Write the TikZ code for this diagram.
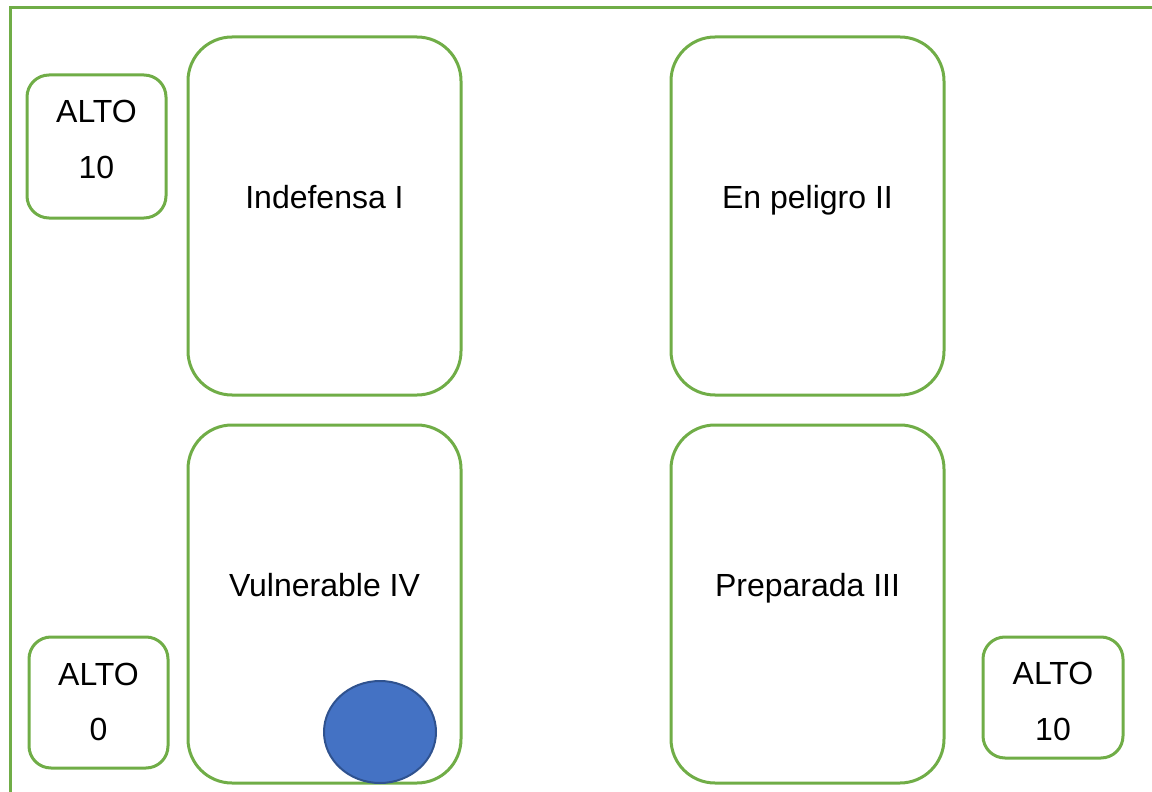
\documentclass[tikz,border=0pt]{standalone}
\usepackage{fontspec}
\setmainfont{Liberation Sans}
\usetikzlibrary{shapes.geometric}
\definecolor{gframe}{HTML}{70AD47}
\definecolor{dotfill}{HTML}{4472C4}
\definecolor{dotline}{HTML}{2F528F}
\tikzset{
  bigbox/.style={draw=gframe, line width=1.5pt, rounded corners=22pt, anchor=north west, inner sep=0pt, outer sep=0pt, minimum width=136.5pt, minimum height=179pt},
  smallbox/.style={draw=gframe, line width=1.5pt, rounded corners=11pt, anchor=north west, inner sep=0pt, outer sep=0pt},
  lbl/.style={anchor=base, inner sep=0pt, font=\fontsize{16}{19}\selectfont},
}
\begin{document}
\begin{tikzpicture}[x=0.5pt, y=-0.5pt]
\useasboundingbox (0,0) rectangle (1152,792);
\clip (0,0) rectangle (1152,792);
\draw[gframe, line width=1.5pt] (10,8) rectangle (1180,820);
% big quadrant boxes
\node[bigbox] (b1) at (188,37) {};
\node[bigbox] (b2) at (671,37) {};
\node[bigbox] (b4) at (188,425) {};
\node[bigbox] (b3) at (671,425) {};
\node[lbl] (t1) at (324.5,208) {Indefensa I};
\node[lbl] (t2) at (807.5,208) {En peligro II};
\node[lbl] (t4) at (324.5,596) {Vulnerable IV};
\node[lbl] (t3) at (807.5,596) {Preparada III};
% small side boxes
\node[smallbox, minimum width=69.5pt, minimum height=71.5pt] (s1) at (27,75) {};
\node[lbl] (s1a) at (96.5,123) {ALTO};
\node[lbl] (s1b) at (96.5,178) {10};
\node[smallbox, minimum width=69.5pt, minimum height=65.5pt] (s2) at (29,637) {};
\node[lbl] (s2a) at (98.5,685) {ALTO};
\node[lbl] (s2b) at (98.5,740) {0};
\node[smallbox, minimum width=70pt, minimum height=60.5pt] (s3) at (983,637) {};
\node[lbl] (s3a) at (1053,684) {ALTO};
\node[lbl] (s3b) at (1053,740) {10};
% marker
\node[ellipse, draw=dotline, fill=dotfill, line width=1pt, minimum width=56pt, minimum height=51pt, inner sep=0pt] (dot) at (380,732) {};
\end{tikzpicture}
\end{document}
